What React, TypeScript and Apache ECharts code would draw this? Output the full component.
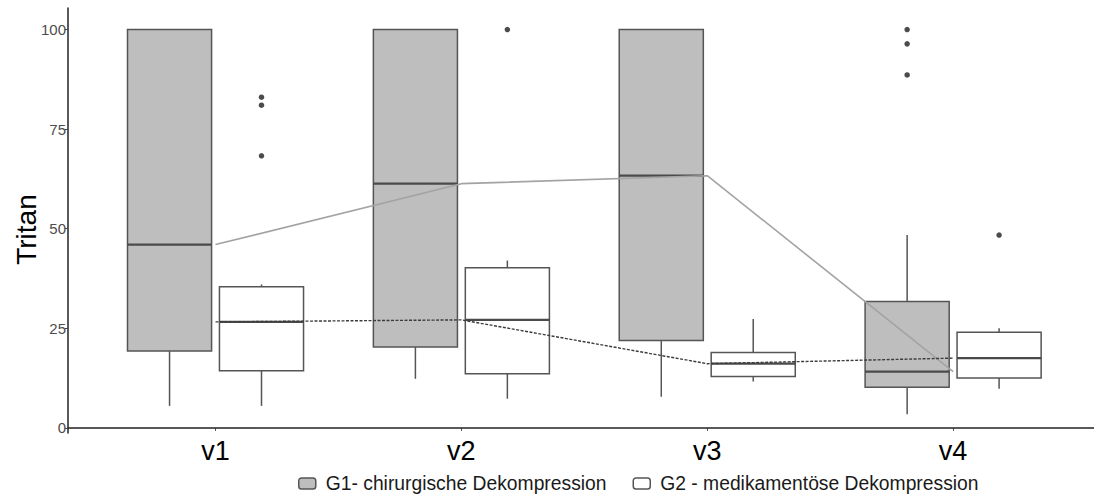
import React, { useEffect, useRef } from "react";
import * as echarts from "echarts";

// Categories (visits)
const categories = ["v1", "v2", "v3", "v4"];
const yTicks = [0, 25, 50, 75, 100];

// Box statistics: [min, Q1, median, Q3, max] per visit
const g1Stats = [
  [5.5, 19.3, 46.0, 100, 100],
  [12.3, 20.3, 61.3, 100, 100],
  [7.8, 21.9, 63.3, 100, 100],
  [3.4, 10.2, 14.1, 31.7, 48.4],
];
const g2Stats = [
  [5.5, 14.3, 26.6, 35.4, 36.0],
  [7.3, 13.6, 27.1, 40.2, 42.0],
  [11.6, 12.9, 16.1, 18.9, 27.3],
  [9.8, 12.5, 17.5, 24.0, 25.0],
];

// Outliers per visit
const g1Outliers = [[], [], [], [100, 96.4, 88.6]];
const g2Outliers = [[83, 81, 68.3], [100], [], [48.4]];

const seriesNames = ["G1- chirurgische Dekompression", "G2 - medikamentöse Dekompression"];

const OFFSET = 0.187; // group offset from category centre (in category units)
const HALF = 0.171; // half box width (in category units)
const FONT = "'Liberation Sans', Arial, sans-serif";
const BOX_STROKE = "#555555";

function boxData(stats: number[][]) {
  return stats.map((s, i) => [i + 1, ...s]);
}
function outlierData(out: number[][], off: number) {
  const res: number[][] = [];
  out.forEach((vals, i) => vals.forEach((v) => res.push([i + 1 + off, v])));
  return res;
}
function medianLine(stats: number[][]) {
  return stats.map((s, i) => [i + 1, s[2]]);
}

function makeRender(off: number, fill: string) {
  return (_params: any, api: any) => {
    const x = api.value(0) as number;
    const mn = api.value(1), q1 = api.value(2), md = api.value(3), q3 = api.value(4), mx = api.value(5);
    const cx = api.coord([x + off, md])[0];
    const xl = api.coord([x + off - HALF, md])[0];
    const xr = api.coord([x + off + HALF, md])[0];
    const yMin = api.coord([x, mn])[1];
    const yQ1 = api.coord([x, q1])[1];
    const yMd = api.coord([x, md])[1];
    const yQ3 = api.coord([x, q3])[1];
    const yMax = api.coord([x, mx])[1];
    const ls = { stroke: BOX_STROKE, lineWidth: 1.5 };
    const children: any[] = [];
    if (mx > q3) children.push({ type: "line", shape: { x1: cx, y1: yQ3, x2: cx, y2: yMax }, style: ls });
    if (mn < q1) children.push({ type: "line", shape: { x1: cx, y1: yQ1, x2: cx, y2: yMin }, style: ls });
    children.push({
      type: "rect",
      shape: { x: xl, y: yQ3, width: xr - xl, height: yQ1 - yQ3 },
      style: { fill, stroke: BOX_STROKE, lineWidth: 1.5 },
    });
    children.push({
      type: "line",
      shape: { x1: xl, y1: yMd, x2: xr, y2: yMd },
      style: { stroke: "#4a4a4a", lineWidth: 2.2 },
    });
    return { type: "group", children };
  };
}

export default function App() {
  const ref = useRef<HTMLDivElement>(null);
  useEffect(() => {
    if (!ref.current) return;
    const chart = echarts.init(ref.current, null, { renderer: "svg" });
    chart.setOption({
      animation: false,
      backgroundColor: "#ffffff",
      textStyle: { fontFamily: FONT },
      grid: { left: 68, right: 0, top: 8, bottom: 61, outerBoundsMode: "none" },
      legend: {
        left: 293,
        top: 469,
        itemWidth: 17,
        itemHeight: 11,
        itemGap: 26,
        icon: "roundRect",
        textStyle: { fontFamily: FONT, fontSize: 19.3, color: "#1a1a1a", padding: [0, 0, 0, 5] },
        data: [
          { name: seriesNames[0], itemStyle: { color: "#bebebe", borderColor: "#555", borderWidth: 1.5 } },
          { name: seriesNames[1], itemStyle: { color: "#ffffff", borderColor: "#555", borderWidth: 1.5 } },
        ],
      },
      xAxis: {
        type: "value",
        min: 0.4,
        max: 4.573,
        splitLine: { show: false },
        axisLine: { show: true, lineStyle: { color: "#222", width: 1.5 } },
        axisTick: { show: true, customValues: [1, 2, 3, 4], length: 3, lineStyle: { color: "#444" } },
        axisLabel: {
          customValues: [1, 2, 3, 4],
          formatter: (v: number) => categories[Math.round(v) - 1] ?? "",
          fontSize: 27,
          color: "#000",
          margin: 4,
          fontFamily: FONT,
        },
      },
      yAxis: {
        type: "value",
        min: -1.3,
        max: 105.4,
        name: "Tritan",
        nameLocation: "middle",
        nameGap: 28,
        nameMoveOverlap: false,
        nameTextStyle: { fontSize: 28, color: "#000", fontFamily: FONT, padding: [0, 18, 0, 0] },
        splitLine: { show: false },
        axisLine: { show: true, lineStyle: { color: "#222", width: 1.5 } },
        axisTick: { show: true, customValues: yTicks, length: 3, lineStyle: { color: "#444" } },
        axisLabel: { customValues: yTicks, fontSize: 15, color: "#4d4d4d", margin: 2, fontFamily: FONT },
      },
      series: [
        {
          name: seriesNames[0],
          type: "custom",
          renderItem: makeRender(-OFFSET, "#bebebe"),
          itemStyle: { color: "#bebebe", borderColor: "#555" },
          encode: { x: 0, y: [1, 2, 3, 4, 5] },
          data: boxData(g1Stats),
          z: 2,
        },
        {
          name: seriesNames[1],
          type: "custom",
          renderItem: makeRender(OFFSET, "#ffffff"),
          itemStyle: { color: "#ffffff", borderColor: "#555" },
          encode: { x: 0, y: [1, 2, 3, 4, 5] },
          data: boxData(g2Stats),
          z: 2,
        },
        {
          name: "G1 outliers",
          type: "scatter",
          symbolSize: 5.5,
          itemStyle: { color: "#1e1e1e" },
          data: outlierData(g1Outliers, -OFFSET),
          z: 3,
        },
        {
          name: "G2 outliers",
          type: "scatter",
          symbolSize: 5.5,
          itemStyle: { color: "#1e1e1e" },
          data: outlierData(g2Outliers, OFFSET),
          z: 3,
        },
        {
          name: "G1 median",
          type: "line",
          symbol: "none",
          lineStyle: { color: "#a3a3a3", width: 1.6 },
          data: medianLine(g1Stats),
          z: 4,
        },
        {
          name: "G2 median",
          type: "line",
          symbol: "none",
          lineStyle: { color: "#3c3c3c", width: 1.4, type: [3, 1.5] },
          data: medianLine(g2Stats),
          z: 4,
        },
      ],
    });
    return () => chart.dispose();
  }, []);
  return (
    <div
      ref={ref}
      style={{ position: "fixed", left: 0, top: 0, width: 1094, height: 494, background: "#fff" }}
    />
  );
}
